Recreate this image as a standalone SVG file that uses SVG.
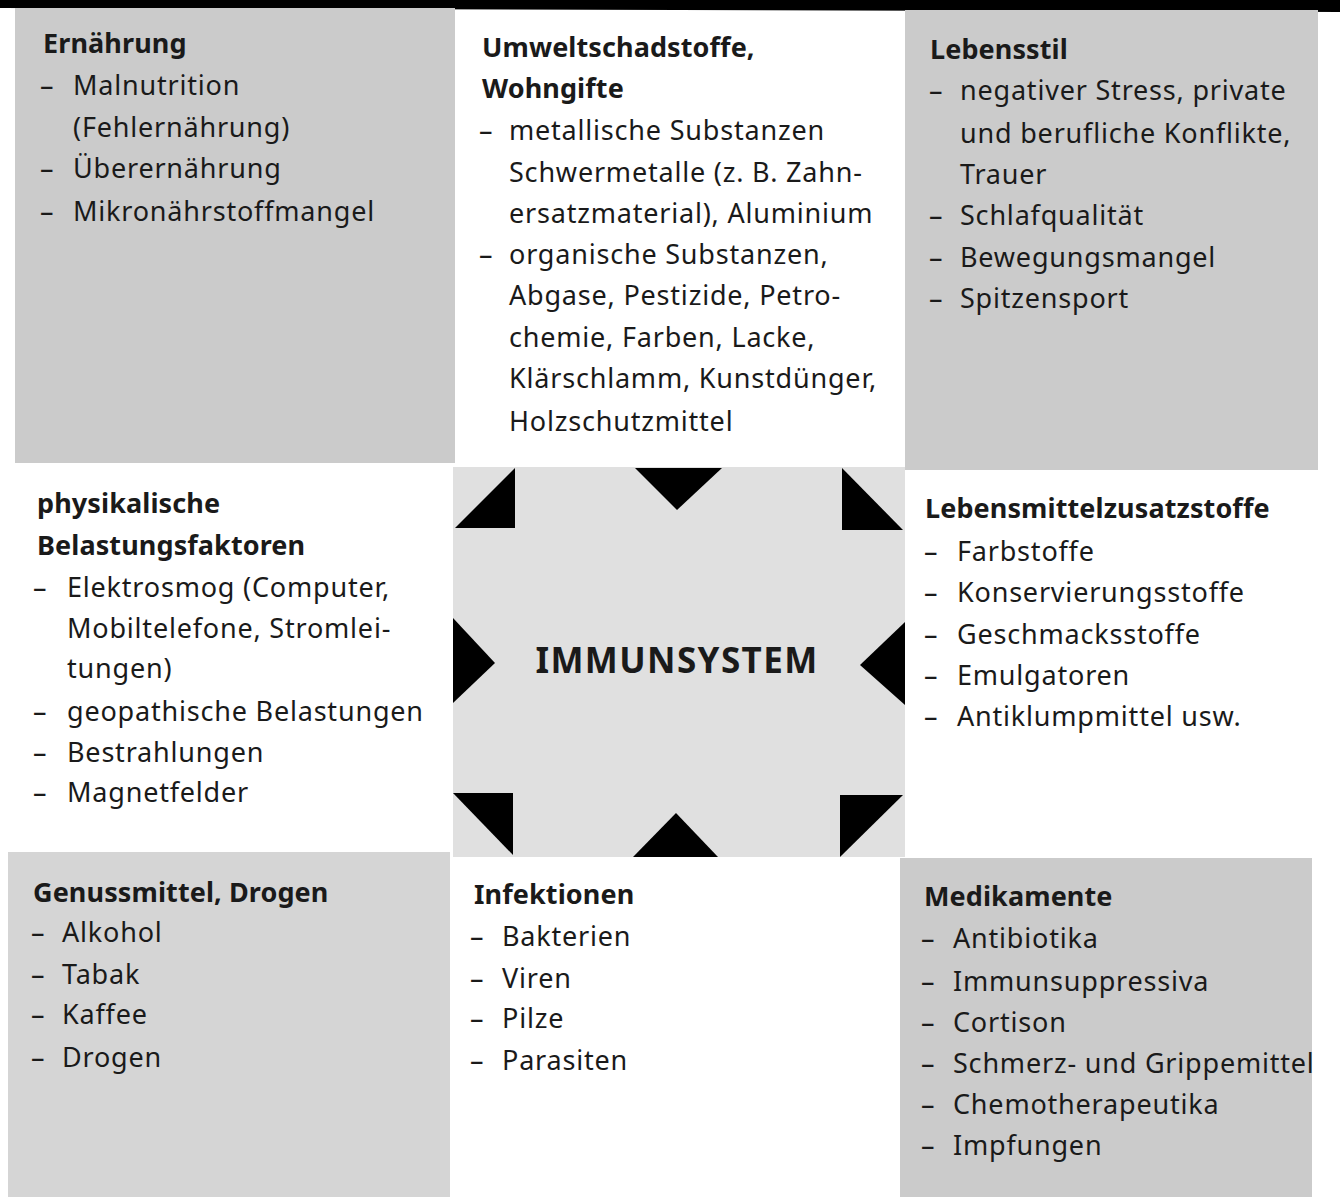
<svg xmlns="http://www.w3.org/2000/svg" width="1340" height="1197" viewBox="0 0 1340 1197">
<defs>
<style>
text{font-family:"Noto Sans","Open Sans","DejaVu Sans",sans-serif;fill:#1a1a1a;}
.t{font-size:27px;letter-spacing:0.8px;}
.h{font-size:27px;font-weight:700;letter-spacing:0.1px;}
.big{font-size:35px;font-weight:700;letter-spacing:1.4px;}
.g1{fill:#cbcbcb;}
.g2{fill:#e0e0e0;}
.g3{fill:#d5d5d5;}
.tri{fill:#000;}
</style>
</defs>
<rect width="1340" height="1197" fill="#ffffff"/>
<polygon points="0,0 1340,0 1340,12 0,8" fill="#000"/>

<g id="node-ernaehrung">
<rect class="g1" x="15" y="8" width="440" height="455"/>
<text class="h" x="43" y="53">Ernährung</text>
<text class="t" x="40" y="95">–</text><text class="t" x="73" y="95">Malnutrition</text>
<text class="t" x="73" y="137">(Fehlernährung)</text>
<text class="t" x="40" y="178">–</text><text class="t" x="73" y="178">Überernährung</text>
<text class="t" x="40" y="221">–</text><text class="t" x="73" y="221">Mikronährstoffmangel</text>
</g>

<g id="node-umwelt">
<text class="h" x="482" y="57">Umweltschadstoffe,</text>
<text class="h" x="482" y="98">Wohngifte</text>
<text class="t" x="479" y="140">–</text><text class="t" x="509" y="140">metallische Substanzen</text>
<text class="t" x="509" y="182">Schwermetalle (z. B. Zahn-</text>
<text class="t" x="509" y="223">ersatzmaterial), Aluminium</text>
<text class="t" x="479" y="264">–</text><text class="t" x="509" y="264">organische Substanzen,</text>
<text class="t" x="509" y="305">Abgase, Pestizide, Petro-</text>
<text class="t" x="509" y="347">chemie, Farben, Lacke,</text>
<text class="t" x="509" y="388">Klärschlamm, Kunstdünger,</text>
<text class="t" x="509" y="431">Holzschutzmittel</text>
</g>

<g id="node-lebensstil">
<rect class="g1" x="905" y="10" width="413" height="460"/>
<text class="h" x="930" y="59">Lebensstil</text>
<text class="t" x="929" y="100">–</text><text class="t" x="960" y="100">negativer Stress, private</text>
<text class="t" x="960" y="143">und berufliche Konflikte,</text>
<text class="t" x="960" y="184">Trauer</text>
<text class="t" x="929" y="225">–</text><text class="t" x="960" y="225">Schlafqualität</text>
<text class="t" x="929" y="267">–</text><text class="t" x="960" y="267">Bewegungsmangel</text>
<text class="t" x="929" y="308">–</text><text class="t" x="960" y="308">Spitzensport</text>
</g>

<g id="node-physikalisch">
<text class="h" x="37" y="513">physikalische</text>
<text class="h" x="37" y="555">Belastungsfaktoren</text>
<text class="t" x="33" y="597">–</text><text class="t" x="67" y="597">Elektrosmog (Computer,</text>
<text class="t" x="67" y="638">Mobiltelefone, Stromlei-</text>
<text class="t" x="67" y="678">tungen)</text>
<text class="t" x="33" y="721">–</text><text class="t" x="67" y="721">geopathische Belastungen</text>
<text class="t" x="33" y="762">–</text><text class="t" x="67" y="762">Bestrahlungen</text>
<text class="t" x="33" y="802">–</text><text class="t" x="67" y="802">Magnetfelder</text>
</g>

<g id="node-immunsystem">
<rect class="g2" x="453" y="467" width="452" height="390"/>
<text class="big" x="677" y="673" text-anchor="middle">IMMUNSYSTEM</text>
</g>

<g id="node-lebensmittel">
<text class="h" x="925" y="518">Lebensmittelzusatzstoffe</text>
<text class="t" x="924" y="561">–</text><text class="t" x="957" y="561">Farbstoffe</text>
<text class="t" x="924" y="602">–</text><text class="t" x="957" y="602">Konservierungsstoffe</text>
<text class="t" x="924" y="644">–</text><text class="t" x="957" y="644">Geschmacksstoffe</text>
<text class="t" x="924" y="685">–</text><text class="t" x="957" y="685">Emulgatoren</text>
<text class="t" x="924" y="726">–</text><text class="t" x="957" y="726">Antiklumpmittel usw.</text>
</g>

<g id="node-genussmittel">
<rect class="g3" x="8" y="852" width="442" height="345"/>
<text class="h" x="33" y="902">Genussmittel, Drogen</text>
<text class="t" x="31" y="942">–</text><text class="t" x="62" y="942">Alkohol</text>
<text class="t" x="31" y="984">–</text><text class="t" x="62" y="984">Tabak</text>
<text class="t" x="31" y="1024">–</text><text class="t" x="62" y="1024">Kaffee</text>
<text class="t" x="31" y="1067">–</text><text class="t" x="62" y="1067">Drogen</text>
</g>

<g id="node-infektionen">
<text class="h" x="474" y="904">Infektionen</text>
<text class="t" x="470" y="946">–</text><text class="t" x="502" y="946">Bakterien</text>
<text class="t" x="470" y="988">–</text><text class="t" x="502" y="988">Viren</text>
<text class="t" x="470" y="1028">–</text><text class="t" x="502" y="1028">Pilze</text>
<text class="t" x="470" y="1070">–</text><text class="t" x="502" y="1070">Parasiten</text>
</g>

<g id="node-medikamente">
<rect class="g1" x="900" y="858" width="412" height="339"/>
<text class="h" x="924" y="906">Medikamente</text>
<text class="t" x="921" y="948">–</text><text class="t" x="953" y="948">Antibiotika</text>
<text class="t" x="921" y="991">–</text><text class="t" x="953" y="991">Immunsuppressiva</text>
<text class="t" x="921" y="1032">–</text><text class="t" x="953" y="1032">Cortison</text>
<text class="t" x="921" y="1073">–</text><text class="t" x="953" y="1073">Schmerz- und Grippemittel</text>
<text class="t" x="921" y="1114">–</text><text class="t" x="953" y="1114">Chemotherapeutika</text>
<text class="t" x="921" y="1155">–</text><text class="t" x="953" y="1155">Impfungen</text>
</g>

<g id="connectors">
<polygon class="tri" points="455,528 515,468 515,528"/>
<polygon class="tri" points="635,468 722,468 677,510"/>
<polygon class="tri" points="842,468 842,530 903,530"/>
<polygon class="tri" points="453,618 495,663 453,703"/>
<polygon class="tri" points="905,622 860,665 905,705"/>
<polygon class="tri" points="453,793 513,793 513,855"/>
<polygon class="tri" points="633,857 718,857 676,813"/>
<polygon class="tri" points="840,795 903,795 840,857"/>
</g>
</svg>
